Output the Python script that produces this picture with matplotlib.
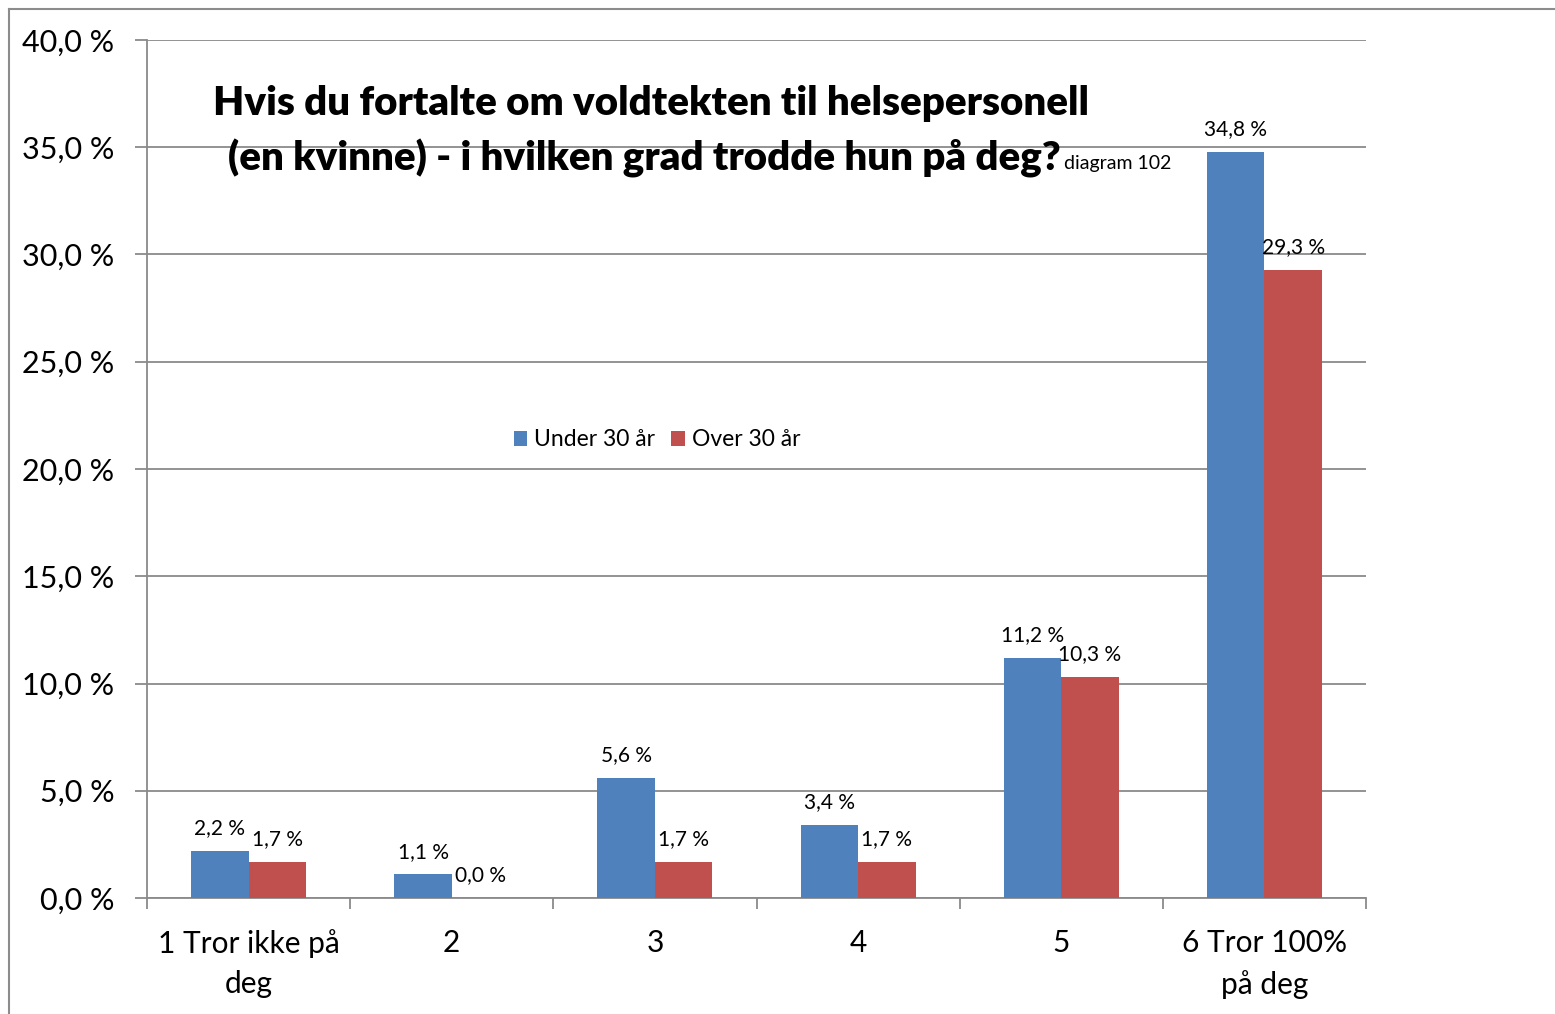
import matplotlib
matplotlib.use("Agg")
import matplotlib.pyplot as plt
from matplotlib.lines import Line2D
import numpy as np

categories = ["1 Tror ikke på\ndeg", "2", "3", "4", "5", "6 Tror 100%\npå deg"]
under30 = [2.2, 1.1, 5.6, 3.4, 11.2, 34.8]
over30 = [1.7, 0.0, 1.7, 1.7, 10.3, 29.3]
series_names = ["Under 30 år", "Over 30 år"]
yticks = [0, 5, 10, 15, 20, 25, 30, 35, 40]

plt.rcParams['font.family'] = ['Lato', 'DejaVu Sans']
W, H = 1555, 1014
fig = plt.figure(figsize=(W/100, H/100), dpi=100)
ax = fig.add_axes([147/W, 1-898/H, (1366-147)/W, (898-40)/H])

x = np.arange(len(categories))
bw = 0.283
blue = "#4F81BD"
red = "#C0504D"
b1 = ax.bar(x - bw/2, under30, bw, color=blue, label=series_names[0], zorder=3)
b2 = ax.bar(x + bw/2, over30, bw, color=red, label=series_names[1], zorder=3)

def fmt(v):
    return f"{v:.1f}".replace(".", ",") + " %"

for bars, vals in ((b1, under30), (b2, over30)):
    for r, v in zip(bars, vals):
        ax.annotate(fmt(v), (r.get_x() + r.get_width()/2, v), xytext=(0, 9),
                    textcoords="offset points", ha="center", va="bottom",
                    fontsize=15, color="black", zorder=4)

ax.set_xlim(-0.5, len(categories) - 0.5)
ax.set_ylim(0, 40)
ax.set_yticks(yticks)
ax.set_yticklabels([f"{v:.1f}".replace(".", ",") + " %" for v in yticks], fontsize=22)
ax.yaxis.grid(True, color="#8a8a8a", linewidth=1.3, zorder=0)
ax.set_axisbelow(True)

ax.set_xticks(x)
ax.set_xticklabels(categories, fontsize=21.5, linespacing=1.55)
ax.set_xticks(np.arange(-0.5, len(categories)), minor=True)
ax.tick_params(axis="x", which="major", length=0, pad=22)
ax.tick_params(axis="x", which="minor", length=8, width=1.3, color="#8a8a8a")
ax.tick_params(axis="y", length=8.5, width=1.3, color="#8a8a8a", pad=15)

for s in ("top", "right"):
    ax.spines[s].set_visible(False)
for s in ("left", "bottom"):
    ax.spines[s].set_color("#8a8a8a")
    ax.spines[s].set_linewidth(1.3)

# Title
fig.text(651/W, 1-104/H, "Hvis du fortalte om voldtekten til helsepersonell",
         ha="center", va="center", fontsize=29, fontweight="heavy")
fig.text(228/W, 1-158/H, "(en kvinne) - i hvilken grad trodde hun på deg?",
         ha="left", va="center", fontsize=29, fontweight="heavy")
fig.text(1064/W, 1-164/H, "diagram 102", ha="left", va="center", fontsize=14)

fig.legend(loc="center", bbox_to_anchor=(657/W, 1-440/H), ncol=2, frameon=False,
           fontsize=16.5, handlelength=0.6, handleheight=0.6, handletextpad=0.3,
           columnspacing=0.7)

# outer border
fig.add_artist(Line2D([9/W, 9/W], [0, 1-9/H], transform=fig.transFigure,
                      color="#8c8c8c", linewidth=1.5))
fig.add_artist(Line2D([9/W, 1], [1-9/H, 1-9/H], transform=fig.transFigure,
                      color="#8c8c8c", linewidth=1.5))

fig.savefig("out.png", dpi=100, facecolor="white")
